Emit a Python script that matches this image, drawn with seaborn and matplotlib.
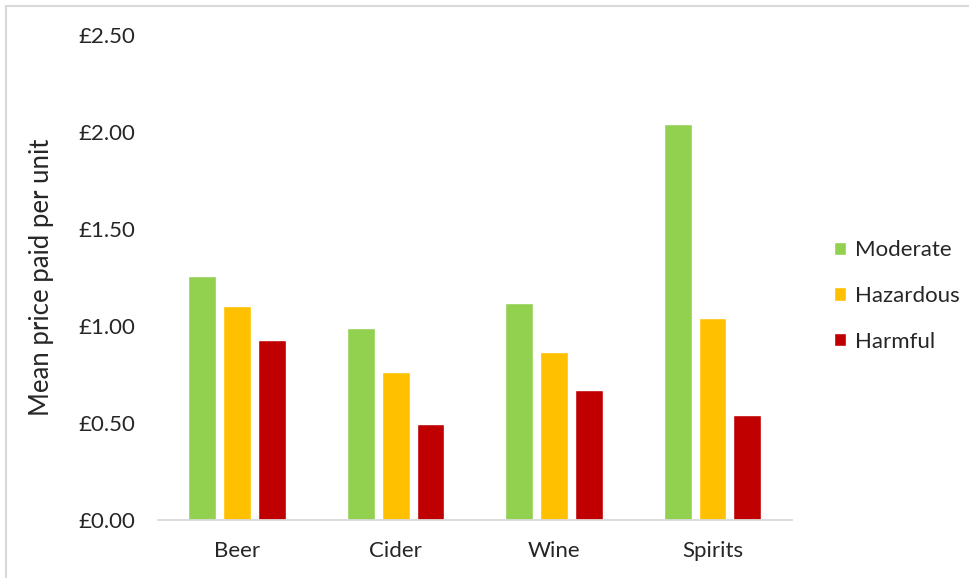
import pandas as pd
import matplotlib.pyplot as plt
from matplotlib.lines import Line2D
import seaborn as sns

drinks = ["Beer", "Cider", "Wine", "Spirits"]
groups = ["Moderate", "Hazardous", "Harmful"]
moderate = [1.26, 0.99, 1.12, 2.04]
hazardous = [1.105, 0.765, 0.865, 1.04]
harmful = [0.93, 0.495, 0.67, 0.54]
colors = ["#92D050", "#FFC000", "#C00000"]

df = pd.DataFrame({
    "drink": drinks * 3,
    "group": [g for g in groups for _ in drinks],
    "price": moderate + hazardous + harmful,
})

sns.set_style("white")
plt.rcParams["font.family"] = ["Lato", "DejaVu Sans"]

fig = plt.figure(figsize=(9.69, 5.78), dpi=100)
ax = fig.add_axes([0.163, 0.1003, 0.654, 0.8391])

sns.barplot(data=df, x="drink", y="price", hue="group", palette=colors,
            width=0.66, gap=0.2, ax=ax, errorbar=None, saturation=1)

ax.set_ylim(0, 2.5)
ax.set_yticks([0, 0.5, 1.0, 1.5, 2.0, 2.5])
ax.set_yticklabels([f"£{v:.2f}" for v in [0, 0.5, 1.0, 1.5, 2.0, 2.5]])
ax.tick_params(axis="y", length=0, pad=16, labelsize=16)
ax.tick_params(axis="x", length=0, pad=15, labelsize=16)
ax.set_xlabel("")
ax.set_ylabel("Mean price paid per unit", fontsize=18.5, labelpad=18)

for s in ["top", "right", "left"]:
    ax.spines[s].set_visible(False)
ax.spines["bottom"].set_color("#D9D9D9")
ax.spines["bottom"].set_linewidth(1.3)

ax.legend(title=None, frameon=False, fontsize=16, loc="center left",
          bbox_to_anchor=(1.035, 0.462), handlelength=0.55, handleheight=0.55,
          handletextpad=0.4, labelspacing=1.15)

# light grey chart border
fig.add_artist(Line2D([6 / 969, 6 / 969], [0, 1 - 6 / 578], color="#D9D9D9", lw=1.5))
fig.add_artist(Line2D([6 / 969, 1], [1 - 6 / 578, 1 - 6 / 578], color="#D9D9D9", lw=1.5))

fig.savefig("out.png", dpi=100)
